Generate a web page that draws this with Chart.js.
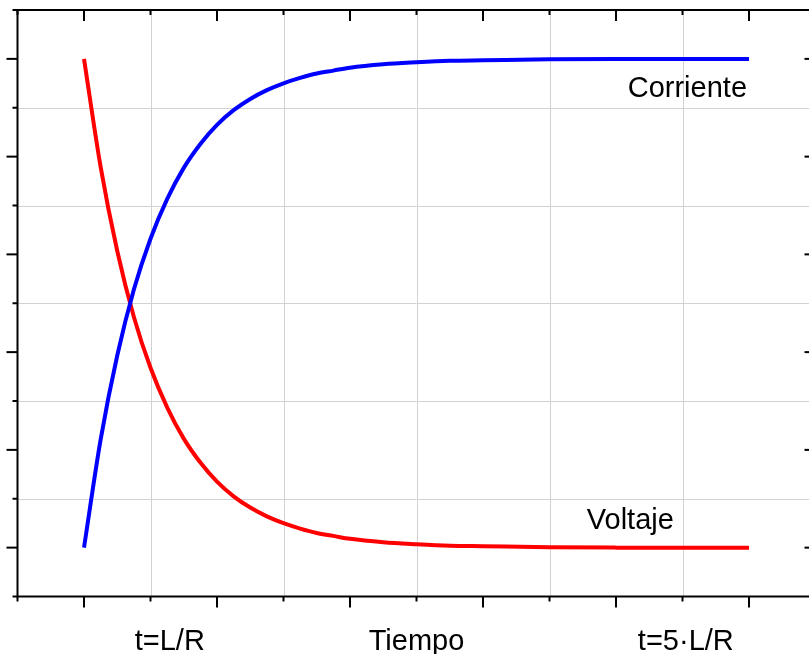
<!DOCTYPE html>
<html>
<head>
<meta charset="utf-8">
<script src="https://cdn.jsdelivr.net/npm/chart.js@4"></script>
<style>
  html, body { margin: 0; padding: 0; background: #fff; overflow: hidden; }
  #wrap { width: 830px; height: 654px; }
</style>
</head>
<body>
<div id="wrap"><canvas id="chart" width="830" height="654"></canvas></div>
<script>
// tiempo en unidades de L/R
const tiempo    = [0, 0.25, 0.5, 0.75, 1, 1.25, 1.5, 1.75, 2, 2.25, 2.5, 2.75, 3, 3.25, 3.5, 3.75, 4, 4.5, 5, 5.5, 6, 7, 8, 9, 10];
const corriente = [0, 0.221, 0.393, 0.528, 0.632, 0.713, 0.777, 0.826, 0.865, 0.895, 0.918, 0.936, 0.950, 0.961, 0.970, 0.976, 0.982, 0.989, 0.993, 0.996, 0.997, 0.999, 1, 1, 1];
const voltaje   = [1, 0.779, 0.607, 0.472, 0.368, 0.287, 0.223, 0.174, 0.135, 0.105, 0.082, 0.064, 0.050, 0.039, 0.030, 0.024, 0.018, 0.011, 0.007, 0.004, 0.003, 0.001, 0, 0, 0];

const xMajor = [0, 2, 4, 6, 8, 10];
const xMinor = [-1, 1, 3, 5, 7, 9, 11];
const yMajor = [0, 0.2, 0.4, 0.6, 0.8, 1.0];
const yMinor = [-0.1, 0.1, 0.3, 0.5, 0.7, 0.9, 1.1];

// textos del eje inferior y sus posiciones (en L/R)
const ejeTextos = ['t=L/R', 'Tiempo', 't=5\u00B7L/R'];
const ejeTextosX = [1.29, 5, 9.05];

// etiquetas de las curvas
const curvaTextos = ['Corriente', 'Voltaje'];
const curvaTextosX = [9.97, 8.87];
const curvaTextosY = [0.922, 0.039];

const marcoPlugin = {
  id: 'marco',
  beforeDatasetsDraw(chart) {
    const { ctx, chartArea: a, scales: { x, y } } = chart;
    ctx.save();
    ctx.strokeStyle = '#d2d2d2';
    ctx.lineWidth = 1;
    xMinor.forEach(v => {
      if (v <= -1 || v >= 11) return;
      const px = Math.round(x.getPixelForValue(v)) + 0.5;
      ctx.beginPath(); ctx.moveTo(px, a.top); ctx.lineTo(px, a.bottom); ctx.stroke();
    });
    yMinor.forEach(v => {
      if (v <= -0.1 || v >= 1.1) return;
      const py = Math.round(y.getPixelForValue(v)) + 0.5;
      ctx.beginPath(); ctx.moveTo(a.left, py); ctx.lineTo(a.right, py); ctx.stroke();
    });
    ctx.restore();
  },
  afterDatasetsDraw(chart) {
    const { ctx, chartArea: a, scales: { x, y } } = chart;
    ctx.save();
    ctx.strokeStyle = '#000';
    ctx.lineWidth = 2;
    ctx.strokeRect(a.left, a.top, a.right - a.left, a.bottom - a.top);

    const tick = (vals, len) => {
      vals.forEach(v => {
        const px = x.getPixelForValue(v);
        ctx.beginPath(); ctx.moveTo(px, a.bottom); ctx.lineTo(px, a.bottom + len); ctx.stroke();
        ctx.beginPath(); ctx.moveTo(px, a.top); ctx.lineTo(px, a.top + len); ctx.stroke();
      });
    };
    const tickY = (vals, len) => {
      vals.forEach(v => {
        const py = y.getPixelForValue(v);
        ctx.beginPath(); ctx.moveTo(a.left - len, py); ctx.lineTo(a.left, py); ctx.stroke();
        ctx.beginPath(); ctx.moveTo(a.right - len, py); ctx.lineTo(a.right, py); ctx.stroke();
      });
    };
    tick(xMajor, 11); tick(xMinor, 5);
    tickY(yMajor, 11); tickY(yMinor, 5);

    ctx.fillStyle = '#000';
    ctx.font = '29px "Liberation Sans", Arial, sans-serif';
    ctx.textBaseline = 'alphabetic';
    ctx.textAlign = 'center';
    ejeTextos.forEach((t, i) => ctx.fillText(t, x.getPixelForValue(ejeTextosX[i]), 650));
    ctx.textAlign = 'right';
    curvaTextos.forEach((t, i) => ctx.fillText(t, x.getPixelForValue(curvaTextosX[i]), y.getPixelForValue(curvaTextosY[i])));
    ctx.restore();
  }
};

new Chart(document.getElementById('chart'), {
  type: 'line',
  data: {
    datasets: [
      {
        label: 'Corriente',
        data: tiempo.map((t, i) => ({ x: t, y: corriente[i] })),
        borderColor: '#0000ff',
        borderWidth: 4,
        pointRadius: 0,
        cubicInterpolationMode: 'monotone'
      },
      {
        label: 'Voltaje',
        data: tiempo.map((t, i) => ({ x: t, y: voltaje[i] })),
        borderColor: '#ff0000',
        borderWidth: 4,
        pointRadius: 0,
        cubicInterpolationMode: 'monotone'
      }
    ]
  },
  options: {
    responsive: false,
    animation: false,
    events: [],
    layout: { padding: { left: 17.5, right: 14.5, top: 10, bottom: 57.5 } },
    plugins: { legend: { display: false }, tooltip: { enabled: false } },
    scales: {
      x: { type: 'linear', min: -1, max: 11, display: false },
      y: { type: 'linear', min: -0.1, max: 1.1, display: false }
    }
  },
  plugins: [marcoPlugin]
});
</script>
</body>
</html>
